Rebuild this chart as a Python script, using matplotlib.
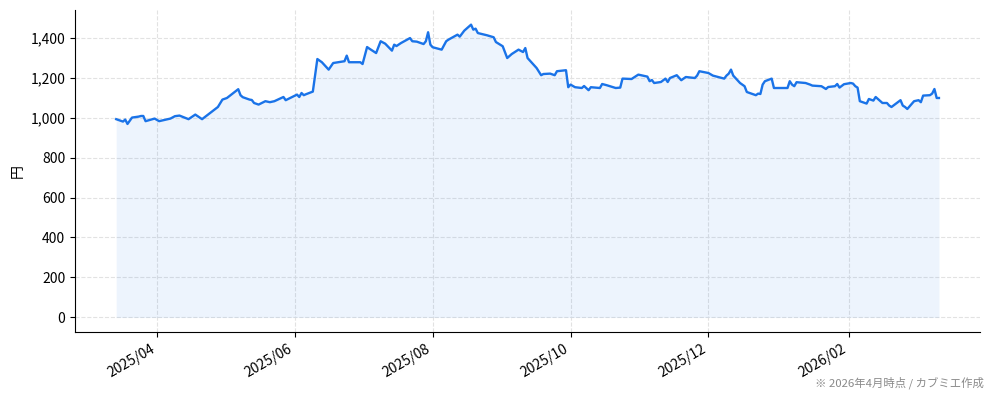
import matplotlib
matplotlib.use("Agg")
import matplotlib.pyplot as plt
import matplotlib.dates as mdates
import matplotlib.ticker as mticker
import pandas as pd

plt.rcParams['font.family'] = ['Noto Sans CJK JP', 'DejaVu Sans']

# price data
dates = [
    "2025-03-14", "2025-03-17", "2025-03-18", "2025-03-19", "2025-03-21", "2025-03-24",
    "2025-03-25", "2025-03-26", "2025-03-27", "2025-03-31", "2025-04-02", "2025-04-07",
    "2025-04-09", "2025-04-11", "2025-04-15", "2025-04-17", "2025-04-18", "2025-04-21",
    "2025-04-25", "2025-04-28", "2025-04-30", "2025-05-02", "2025-05-07", "2025-05-08",
    "2025-05-09", "2025-05-12", "2025-05-13", "2025-05-14", "2025-05-16", "2025-05-19",
    "2025-05-21", "2025-05-23", "2025-05-26", "2025-05-27", "2025-05-28", "2025-06-02",
    "2025-06-03", "2025-06-04", "2025-06-05", "2025-06-06", "2025-06-09", "2025-06-11",
    "2025-06-13", "2025-06-16", "2025-06-18", "2025-06-23", "2025-06-24", "2025-06-25",
    "2025-06-30", "2025-07-01", "2025-07-03", "2025-07-04", "2025-07-07", "2025-07-09",
    "2025-07-11", "2025-07-14", "2025-07-15", "2025-07-16", "2025-07-18", "2025-07-22",
    "2025-07-23", "2025-07-25", "2025-07-28", "2025-07-29", "2025-07-30", "2025-07-31",
    "2025-08-01", "2025-08-05", "2025-08-07", "2025-08-08", "2025-08-12", "2025-08-13",
    "2025-08-15", "2025-08-18", "2025-08-19", "2025-08-20", "2025-08-21", "2025-08-25",
    "2025-08-28", "2025-08-29", "2025-09-01", "2025-09-03", "2025-09-05", "2025-09-08",
    "2025-09-10", "2025-09-11", "2025-09-12", "2025-09-16", "2025-09-18", "2025-09-19",
    "2025-09-22", "2025-09-24", "2025-09-25", "2025-09-29", "2025-09-30", "2025-10-01",
    "2025-10-03", "2025-10-06", "2025-10-07", "2025-10-09", "2025-10-10", "2025-10-14",
    "2025-10-15", "2025-10-17", "2025-10-21", "2025-10-23", "2025-10-24", "2025-10-28",
    "2025-10-31", "2025-11-04", "2025-11-05", "2025-11-06", "2025-11-07", "2025-11-10",
    "2025-11-12", "2025-11-13", "2025-11-14", "2025-11-17", "2025-11-19", "2025-11-21",
    "2025-11-25", "2025-11-26", "2025-11-27", "2025-12-01", "2025-12-03", "2025-12-08",
    "2025-12-09", "2025-12-10", "2025-12-11", "2025-12-12", "2025-12-15", "2025-12-17",
    "2025-12-18", "2025-12-22", "2025-12-23", "2025-12-24", "2025-12-25", "2025-12-26",
    "2025-12-29", "2025-12-30", "2026-01-05", "2026-01-06", "2026-01-07", "2026-01-08",
    "2026-01-09", "2026-01-13", "2026-01-15", "2026-01-16", "2026-01-20", "2026-01-22",
    "2026-01-23", "2026-01-26", "2026-01-27", "2026-01-28", "2026-01-30", "2026-02-02",
    "2026-02-03", "2026-02-04", "2026-02-05", "2026-02-06", "2026-02-09", "2026-02-10",
    "2026-02-12", "2026-02-13", "2026-02-16", "2026-02-18", "2026-02-19", "2026-02-20",
    "2026-02-24", "2026-02-25", "2026-02-26", "2026-02-27", "2026-03-02", "2026-03-04",
    "2026-03-05", "2026-03-06", "2026-03-09", "2026-03-10", "2026-03-11", "2026-03-12",
    "2026-03-13",
]
prices = [
    992, 980, 990, 968, 1000, 1005,
    1008, 1008, 982, 995, 982, 995,
    1007, 1010, 992, 1007, 1015, 992,
    1027, 1053, 1090, 1098, 1142, 1112,
    1102, 1090, 1088, 1073, 1065, 1082,
    1077, 1082, 1098, 1103, 1087, 1115,
    1103, 1123, 1112, 1117, 1130, 1293,
    1277, 1240, 1273, 1282, 1310, 1277,
    1277, 1268, 1353, 1345, 1323, 1382,
    1370, 1335, 1365, 1358, 1373, 1398,
    1382, 1380, 1368, 1382, 1427, 1365,
    1352, 1340, 1382, 1390, 1415, 1405,
    1435, 1465, 1440, 1445, 1423, 1412,
    1402, 1378, 1357, 1298, 1318, 1340,
    1328, 1348, 1298, 1248, 1212, 1218,
    1220, 1212, 1232, 1237, 1152, 1165,
    1152, 1148, 1158, 1137, 1152, 1148,
    1168, 1162, 1148, 1150, 1195, 1193,
    1215, 1205, 1182, 1188, 1173, 1178,
    1195, 1178, 1198, 1212, 1187, 1203,
    1198, 1210, 1232, 1223, 1210, 1195,
    1210, 1220, 1240, 1210, 1173, 1157,
    1128, 1112, 1120, 1118, 1165, 1182,
    1195, 1148, 1148, 1182, 1165, 1157,
    1177, 1173, 1165, 1160, 1157, 1143,
    1153, 1157, 1168, 1150, 1167, 1173,
    1170, 1157, 1150, 1082, 1070, 1093,
    1085, 1103, 1073, 1073, 1060, 1053,
    1087, 1060, 1053, 1043, 1082, 1087,
    1077, 1110, 1112, 1120, 1143, 1098,
    1098,
]

x = pd.to_datetime(dates)
line_color = '#1a73e8'

fig = plt.figure(figsize=(9.94, 4.01), dpi=100)
ax = fig.add_axes([0.0755, 0.172, 0.9105, 0.803])

ax.plot(x, prices, color=line_color, linewidth=1.7)
ax.fill_between(x, prices, 0, color=line_color, alpha=0.08, linewidth=0)

ax.xaxis.set_major_locator(mdates.MonthLocator(bymonth=[2, 4, 6, 8, 10, 12]))
ax.xaxis.set_major_formatter(mdates.DateFormatter('%Y/%m'))
ax.yaxis.set_major_locator(mticker.MultipleLocator(200))
ax.yaxis.set_major_formatter(mticker.StrMethodFormatter('{x:,.0f}'))

for lbl in ax.get_xticklabels():
    lbl.set_rotation(30)
    lbl.set_ha('right')
ax.tick_params(labelsize=10)

ax.set_ylabel('円', fontsize=10)
ax.grid(True, linestyle='--', color='#e2e2e2', linewidth=0.8)
ax.set_axisbelow(True)
ax.spines['top'].set_visible(False)
ax.spines['right'].set_visible(False)

fig.text(0.99, 0.03, '※ 2026年4月時点 / カブミエ作成', ha='right', va='bottom',
         fontsize=8.2, color='#8a8a8a')

fig.savefig('out.png', dpi=100)
